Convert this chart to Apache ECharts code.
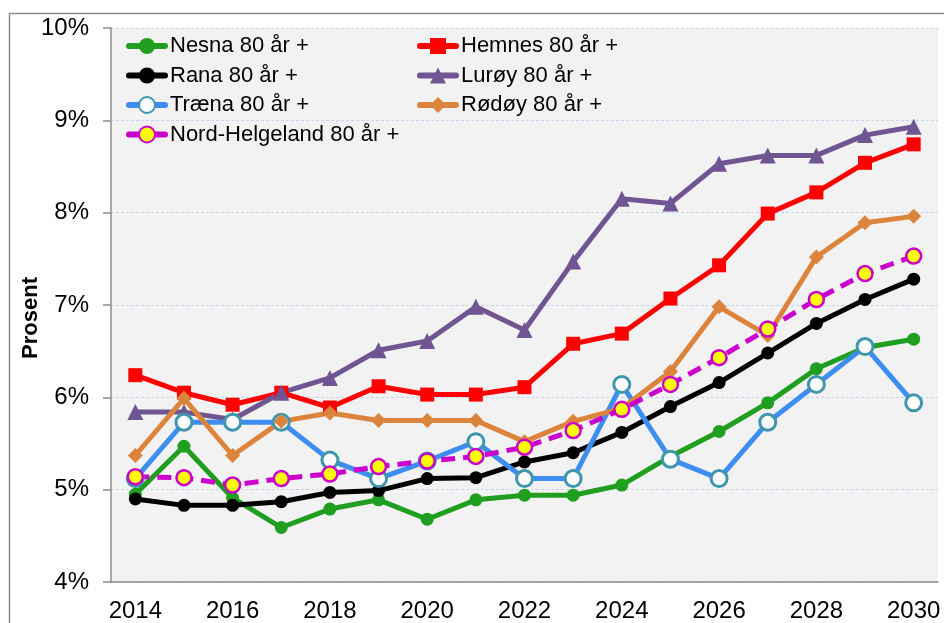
<!DOCTYPE html>
<html>
<head>
<meta charset="utf-8">
<script src="https://cdn.jsdelivr.net/npm/echarts@6/dist/echarts.min.js"></script>
<style>
  html, body { margin: 0; padding: 0; background: #fff; }
  #chart { width: 944px; height: 623px; }
</style>
</head>
<body>
<div id="chart"></div>
<script>
// år og verdier (prosent 80 år +)
var years = ['2014', '2015', '2016', '2017', '2018', '2019', '2020', '2021', '2022',
  '2023', '2024', '2025', '2026', '2027', '2028', '2029', '2030'];

var nesna = [4.95, 5.47, 4.91, 4.59, 4.79, 4.89, 4.68, 4.89, 4.94, 4.94, 5.05, 5.36, 5.63, 5.94, 6.31, 6.54, 6.63];
var hemnes = [6.24, 6.05, 5.92, 6.05, 5.89, 6.12, 6.03, 6.03, 6.11, 6.58, 6.69, 7.07, 7.43, 7.99, 8.22, 8.54, 8.74];
var rana = [4.90, 4.83, 4.83, 4.87, 4.97, 4.99, 5.12, 5.13, 5.30, 5.40, 5.62, 5.90, 6.16, 6.48, 6.80, 7.06, 7.28];
var luroy = [5.84, 5.84, 5.76, 6.05, 6.21, 6.51, 6.61, 6.98, 6.73, 7.47, 8.15, 8.10, 8.53, 8.62, 8.62, 8.84, 8.93];
var traena = [5.12, 5.73, 5.73, 5.73, 5.32, 5.12, 5.31, 5.52, 5.12, 5.12, 6.14, 5.33, 5.12, 5.73, 6.14, 6.55, 5.94];
var rodoy = [5.37, 5.99, 5.37, 5.74, 5.83, 5.75, 5.75, 5.75, 5.52, 5.74, 5.88, 6.28, 6.98, 6.67, 7.52, 7.89, 7.96];
var nordHelgeland = [5.14, 5.13, 5.05, 5.12, 5.17, 5.25, 5.31, 5.36, 5.46, 5.64, 5.87, 6.14, 6.43, 6.74, 7.06, 7.34, 7.53];

var yTicks = [4, 5, 6, 7, 8, 9, 10];

var font = 'Liberation Sans, Arial, sans-serif';

function lineSeries(name, data, color, symbol, size, extra) {
  var s = {
    name: name,
    type: 'line',
    data: data,
    symbol: symbol,
    symbolSize: size,
    lineStyle: { color: color, width: 5 },
    itemStyle: { color: color },
    emphasis: { disabled: true }
  };
  for (var k in extra) s[k] = extra[k];
  return s;
}

var legendBase = {
  orient: 'vertical', top: 30,
  itemWidth: 36, itemHeight: 20, itemGap: 7.5,
  lineStyle: { width: 6, type: 'solid', cap: 'round' },
  textStyle: { fontSize: 22, lineHeight: 22, color: '#000', fontFamily: font }
};

var chart = echarts.init(document.getElementById('chart'));
chart.setOption({
  animation: false,
  backgroundColor: '#fff',
  textStyle: { fontFamily: font },
  grid: {
    left: 111, right: 6, top: 28, bottom: 41,
    show: true, backgroundColor: '#f2f2f2', borderWidth: 0
  },
  graphic: [
    {
      type: 'polyline',
      shape: { points: [[9.5, 700], [9.5, 13.5], [960, 13.5]] },
      style: { stroke: '#8c8c8c', lineWidth: 1.5, fill: null },
      silent: true
    },
    {
      type: 'text',
      x: 31, y: 318,
      rotation: Math.PI / 2,
      style: {
        text: 'Prosent', fill: '#000', font: 'bold 22px ' + font,
        align: 'center', verticalAlign: 'middle'
      }
    }
  ],
  legend: [
    Object.assign({}, legendBase, {
      data: ['Nesna 80 år +', 'Rana 80 år +', 'Træna 80 år +', 'Nord-Helgeland 80 år +'],
      left: 121
    }),
    Object.assign({}, legendBase, {
      data: ['Hemnes 80 år +', 'Lurøy 80 år +', 'Rødøy 80 år +'],
      left: 412
    })
  ],
  xAxis: {
    type: 'category',
    data: years,
    boundaryGap: true,
    axisLine: { lineStyle: { color: '#8c8c8c', width: 1.5 } },
    axisTick: { interval: 1, length: 8, lineStyle: { color: '#8c8c8c', width: 1.5 } },
    axisLabel: { interval: 1, fontSize: 24, color: '#000', margin: 17 },
    splitLine: { show: false }
  },
  yAxis: {
    type: 'value',
    min: yTicks[0], max: yTicks[yTicks.length - 1], interval: 1,
    axisLine: { show: true, lineStyle: { color: '#8c8c8c', width: 1.5 } },
    axisTick: { show: true, length: 8, lineStyle: { color: '#8c8c8c', width: 1.5 } },
    axisLabel: { fontSize: 24, color: '#000', margin: 22, formatter: '{value}%' },
    splitLine: { lineStyle: { color: '#c6d6ef', width: 1, type: [3, 2] } }
  },
  series: [
    lineSeries('Nesna 80 år +', nesna, '#1f9e1f', 'circle', 13),
    lineSeries('Hemnes 80 år +', hemnes, '#ff0000', 'rect', 14),
    lineSeries('Rana 80 år +', rana, '#000000', 'circle', 13),
    lineSeries('Lurøy 80 år +', luroy, '#6f5592', 'triangle', 16),
    lineSeries('Træna 80 år +', traena, '#3d8ef0', 'circle', 16, {
      itemStyle: { color: '#ffffff', borderColor: '#3f96ad', borderWidth: 3 }
    }),
    lineSeries('Rødøy 80 år +', rodoy, '#dc843c', 'diamond', 15),
    lineSeries('Nord-Helgeland 80 år +', nordHelgeland, '#cc00cc', 'circle', 15, {
      lineStyle: { color: '#cc00cc', width: 5, type: [14, 8] },
      itemStyle: { color: '#ffff00', borderColor: '#cc00cc', borderWidth: 2.5 }
    })
  ]
});
</script>
</body>
</html>
